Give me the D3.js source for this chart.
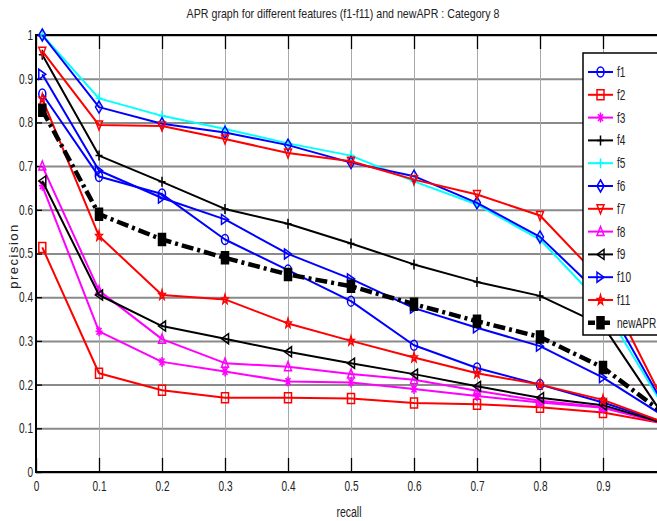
<!DOCTYPE html>
<html>
<head>
<meta charset="utf-8">
<script src="https://cdn.jsdelivr.net/npm/d3@7"></script>
<style>
  body { margin: 0; background: #fff; }
  text { font-family: "Liberation Sans", Arial, sans-serif; fill: #222; }
</style>
</head>
<body>
<div id="chart"></div>
<script>
// values
const recall = [0.01, 0.1, 0.2, 0.3, 0.4, 0.5, 0.6, 0.7, 0.8, 0.9, 1.0]
const f1 = [0.865, 0.676, 0.636, 0.532, 0.462, 0.391, 0.29, 0.238, 0.20, 0.159, 0.112]
const f2 = [0.514, 0.226, 0.187, 0.17, 0.17, 0.168, 0.158, 0.155, 0.148, 0.136, 0.11]
const f3 = [0.655, 0.322, 0.252, 0.23, 0.207, 0.205, 0.19, 0.174, 0.159, 0.147, 0.11]
const f4 = [0.955, 0.724, 0.664, 0.602, 0.568, 0.523, 0.475, 0.435, 0.403, 0.335, 0.12]
const f5 = [1.0, 0.855, 0.815, 0.785, 0.752, 0.724, 0.665, 0.612, 0.532, 0.38, 0.14]
const f6 = [1.0, 0.835, 0.797, 0.777, 0.748, 0.708, 0.677, 0.616, 0.538, 0.40, 0.145]
const f7 = [0.963, 0.794, 0.792, 0.762, 0.73, 0.711, 0.669, 0.635, 0.587, 0.436, 0.15]
const f8 = [0.70, 0.415, 0.304, 0.249, 0.241, 0.224, 0.211, 0.186, 0.163, 0.148, 0.11]
const f9 = [0.666, 0.405, 0.334, 0.305, 0.275, 0.249, 0.224, 0.196, 0.17, 0.153, 0.11]
const f10 = [0.91, 0.69, 0.627, 0.578, 0.499, 0.442, 0.375, 0.33, 0.288, 0.216, 0.125]
const f11 = [0.854, 0.54, 0.405, 0.395, 0.34, 0.30, 0.262, 0.226, 0.20, 0.165, 0.112]
const newAPR = [0.828, 0.59, 0.532, 0.49, 0.452, 0.425, 0.384, 0.345, 0.309, 0.239, 0.13]

const SERIES_NAMES = ["f1", "f2", "f3", "f4", "f5", "f6", "f7", "f8", "f9", "f10", "f11", "newAPR"]
const SERIES_VALUES = [f1, f2, f3, f4, f5, f6, f7, f8, f9, f10, f11, newAPR]
const X_TICKS = [0, 0.1, 0.2, 0.3, 0.4, 0.5, 0.6, 0.7, 0.8, 0.9, 1]
const X_LABELS = [0, 0.1, 0.2, 0.3, 0.4, 0.5, 0.6, 0.7, 0.8, 0.9]
const Y_TICKS = [0, 0.1, 0.2, 0.3, 0.4, 0.5, 0.6, 0.7, 0.8, 0.9, 1]

// matlab-ish styles
const STYLES = {
    f1: { color: "#0000ff", marker: "circle" },
    f2: { color: "#ff0000", marker: "square" },
    f3: { color: "#ff00ff", marker: "asterisk" },
    f4: { color: "#000000", marker: "plus" },
    f5: { color: "#00ffff", marker: "plus" },
    f6: { color: "#0000ff", marker: "diamond" },
    f7: { color: "#ff0000", marker: "triDown" },
    f8: { color: "#ff00ff", marker: "triUp" },
    f9: { color: "#000000", marker: "triLeft" },
    f10: { color: "#0000ff", marker: "triRight" },
    f11: { color: "#ff0000", marker: "star" },
    newAPR: { color: "#000000", marker: "squareFill" }
}

const W = 657, H = 521
const margin = { left: 36, top: 35, right: 666, bottom: 472 }

// unit marker shapes, scaled later
const starPts = d3.range(10).map(i => {
    const r = i % 2 === 0 ? 1 : 0.42
    const a = -Math.PI / 2 + i * Math.PI / 5
    return [r * Math.cos(a), r * Math.sin(a)]
})
const SHAPES = {
    circle: "M1,0A1,1 0 1,1 -1,0A1,1 0 1,1 1,0Z",
    square: "M-1,-1H1V1H-1Z",
    squareFill: "M-1,-1H1V1H-1Z",
    diamond: "M0,-1.2L1,0L0,1.2L-1,0Z",
    triDown: "M-1,-0.8L1,-0.8L0,1Z",
    triUp: "M-1,0.8L1,0.8L0,-1Z",
    triLeft: "M1,-1L1,1L-1,0Z",
    triRight: "M-1,-1L-1,1L1,0Z",
    plus: "M-1,0H1M0,-1V1",
    asterisk: "M-1,0H1M0,-1V1M-0.7,-0.7L0.7,0.7M-0.7,0.7L0.7,-0.7",
    star: "M" + starPts.map(p => p.join(",")).join("L") + "Z"
}

// narrow the text horizontally around its own x anchor (the original font is condensed)
function squeeze(sel, sx) {
    sel.each(function () {
        const t = d3.select(this)
        const x0 = +t.attr("x") || 0
        t.attr("transform", "translate(" + x0 + ",0) scale(" + sx + ",1) translate(" + (-x0) + ",0)")
    })
}

const svg = d3.select("#chart").append("svg")
    .attr("width", W)
    .attr("height", H)

svg.append("rect").attr("width", W).attr("height", H).attr("fill", "#fff")

const x = d3.scaleLinear().domain([0, 1]).range([margin.left, margin.right])
const y = d3.scaleLinear().domain([0, 1]).range([margin.bottom, margin.top])

// grid lines
svg.append("g")
    .attr("transform", "translate(" + margin.left + ",0)")
    .call(d3.axisLeft(y).tickValues(Y_TICKS).tickSize(-(margin.right - margin.left)).tickFormat(""))
    .call(g => g.select(".domain").remove())
    .selectAll("line").attr("stroke", "#8a8a8a").attr("stroke-width", 2)

svg.append("g")
    .attr("transform", "translate(0," + margin.bottom + ")")
    .call(d3.axisBottom(x).tickValues(X_TICKS).tickSize(-(margin.bottom - margin.top)).tickFormat(""))
    .call(g => g.select(".domain").remove())
    .selectAll("line").attr("stroke", "#a8a8a8").attr("stroke-width", 1)

// box
svg.append("rect")
    .attr("x", margin.left).attr("y", margin.top)
    .attr("width", margin.right - margin.left).attr("height", margin.bottom - margin.top)
    .attr("fill", "none").attr("stroke", "#000").attr("stroke-width", 2)

const fmt = d => d === 0 ? "0" : d === 1 ? "1" : d3.format(".1f")(d)

// axes with inward ticks
const xAxis = svg.append("g")
    .attr("transform", "translate(0," + margin.bottom + ")")
    .call(d3.axisBottom(x).tickValues(X_LABELS).tickSize(-14).tickPadding(9).tickFormat(fmt))
xAxis.select(".domain").remove()
xAxis.selectAll("line").attr("stroke", "#000").attr("stroke-width", 1.3)
xAxis.selectAll("text").attr("font-size", 14).attr("font-family", "Liberation Sans, sans-serif").call(squeeze, 0.72)

const xTop = svg.append("g")
    .attr("transform", "translate(0," + margin.top + ")")
    .call(d3.axisTop(x).tickValues(X_TICKS).tickSize(-14).tickFormat(""))
xTop.select(".domain").remove()
xTop.selectAll("line").attr("stroke", "#000").attr("stroke-width", 1.3)

const yAxis = svg.append("g")
    .attr("transform", "translate(" + margin.left + ",0)")
    .call(d3.axisLeft(y).tickValues(Y_TICKS).tickSize(-6).tickPadding(3).tickFormat(fmt))
yAxis.select(".domain").remove()
yAxis.selectAll("line").attr("stroke", "#000").attr("stroke-width", 1.3)
yAxis.selectAll("text").attr("font-size", 14).attr("font-family", "Liberation Sans, sans-serif").call(squeeze, 0.72)

// lines + markers
const line = d3.line()
    .x((d, i) => x(recall[i]))
    .y(d => y(d))

function drawMarker(g, type, color, cx, cy, sx, sy) {
    const filled = type === "squareFill"
    g.append("path")
        .attr("d", SHAPES[type])
        .attr("transform", "translate(" + cx + "," + cy + ") scale(" + sx + "," + sy + ")")
        .attr("fill", filled ? color : "none")
        .attr("stroke", color)
        .attr("stroke-width", 1.5)
        .attr("vector-effect", "non-scaling-stroke")
}

const plot = svg.append("g")
SERIES_NAMES.forEach((name, k) => {
    const st = STYLES[name]
    const vals = SERIES_VALUES[k]
    const g = plot.append("g").attr("class", "series-" + name)
    const isNew = name === "newAPR"
    g.append("path")
        .attr("d", line(vals))
        .attr("fill", "none")
        .attr("stroke", st.color)
        .attr("stroke-width", isNew ? 4.5 : 2)
        .attr("stroke-dasharray", isNew ? "12,4,3,4" : null)
        .attr("stroke-linejoin", "round")
    vals.forEach((v, i) => {
        drawMarker(g, st.marker, st.color, x(recall[i]), y(v), 3.5, isNew ? 6 : 5)
    })
})

// legend
const lg = svg.append("g")
lg.append("rect")
    .attr("x", 583).attr("y", 53).attr("width", 80).attr("height", 282)
    .attr("fill", "#fff").attr("stroke", "#000").attr("stroke-width", 1.5)
SERIES_NAMES.forEach((name, k) => {
    const st = STYLES[name]
    const ly = 72 + k * 22.8
    const isNew = name === "newAPR"
    lg.append("line")
        .attr("x1", 588).attr("x2", 613).attr("y1", ly).attr("y2", ly)
        .attr("stroke", st.color)
        .attr("stroke-width", isNew ? 4.5 : 2)
        .attr("stroke-dasharray", isNew ? "7,3,2,3" : null)
    drawMarker(lg, st.marker, st.color, 600.5, ly, 3.5, isNew ? 6 : 5)
    lg.append("text")
        .attr("x", 617).attr("y", ly + 5)
        .attr("font-size", 14)
        .text(name)
        .call(squeeze, 0.72)
})

// titles
svg.append("text")
    .attr("x", 343).attr("y", 18)
    .attr("text-anchor", "middle")
    .attr("font-size", 13)
    .text("APR graph for different features (f1-f11) and newAPR : Category 8")
    .call(squeeze, 0.82)

svg.append("text")
    .attr("x", 349).attr("y", 517)
    .attr("text-anchor", "middle")
    .attr("font-size", 14)
    .text("recall")
    .call(squeeze, 0.75)

svg.append("text")
    .attr("transform", "translate(18,256) rotate(-90)")
    .attr("text-anchor", "middle")
    .attr("font-size", 13)
    .attr("letter-spacing", 1.5)
    .text("precision")
</script>
</body>
</html>
